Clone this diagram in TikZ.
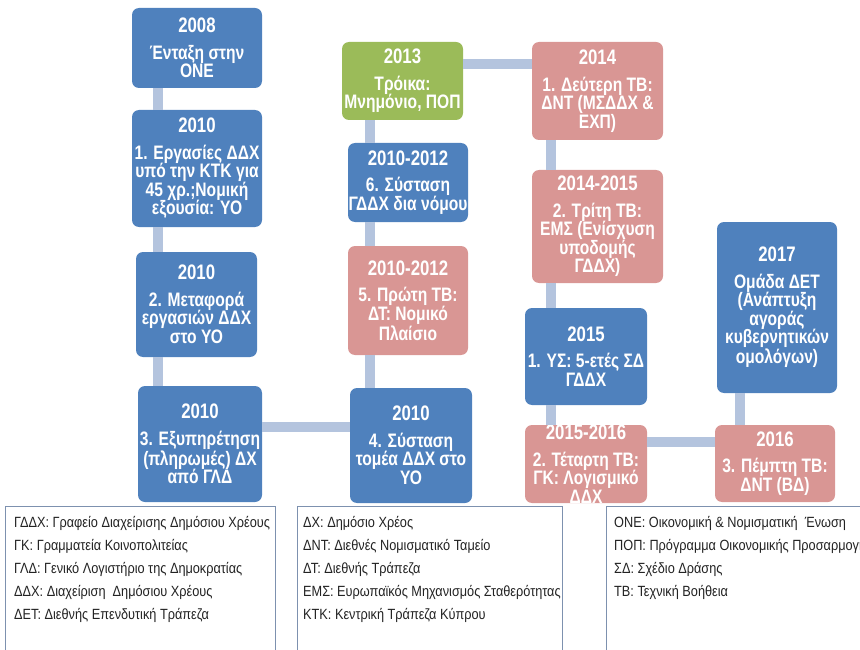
\documentclass[tikz,border=0pt]{standalone}
\usepackage{fontspec}
\setmainfont[FakeStretch=0.8]{Liberation Sans}
\newfontfamily\legfont[FakeStretch=0.86]{Liberation Sans}
\usetikzlibrary{positioning}
\definecolor{stBlue}{RGB}{79,129,189}
\definecolor{stRose}{RGB}{217,150,148}
\definecolor{stGreen}{RGB}{155,187,89}
\definecolor{link}{RGB}{180,196,222}
\definecolor{frame}{RGB}{125,145,175}
\definecolor{ink}{RGB}{35,35,35}
\tikzset{
  stage/.style={rectangle,rounded corners=7pt,inner sep=0pt,text=white,align=center,
    font=\bfseries\fontsize{19.5}{18.5}\selectfont},
  stagetxt/.style={inner sep=0pt,text=white,align=center,font=\bfseries\fontsize{19.5}{18.5}\selectfont},
  blu/.style={stage,fill=stBlue},
  rose/.style={stage,fill=stRose},
  grn/.style={stage,fill=stGreen},
  lnk/.style={draw=link,line width=10pt},
  legbox/.style={draw=frame,fill=white,line width=0.8pt},
  legtxt/.style={anchor=north west,align=left,text=ink,inner sep=0pt,
    font=\legfont\fontsize{14.8}{23}\selectfont},
}
\newcommand\stageyr[1]{{\fontsize{21}{18.5}\selectfont #1}}

\begin{document}
\begin{tikzpicture}[x=1pt,y=-1pt]
% public debt management in Cyprus, 2008-2017
\clip (0,0) rectangle (860,650);
\coordinate (c1) at (157.5,0);
\coordinate (c2) at (370,0);
\coordinate (c3) at (551,0);
\coordinate (c4) at (740,0);
\coordinate (h1) at (0,427);
\coordinate (h2) at (0,64);
\coordinate (h3) at (0,442);

\node[blu,minimum width=130pt,minimum height=80pt] (b08) at (197,48)
  {\stageyr{2008}\\[8pt]Ένταξη στην\\ONE};
\node[blu,minimum width=130pt,minimum height=117pt] (b10a) at (197,168.5)
  {\stageyr{2010}\\[8pt]1. Εργασίες ΔΔΧ\\υπό την ΚΤΚ για\\45 χρ.;Νομική\\εξουσία: ΥΟ};
\node[blu,minimum width=121pt,minimum height=105pt] (b10b) at (196.5,304.5)
  {\stageyr{2010}\\[8pt]2. Μεταφορά\\εργασιών ΔΔΧ\\στο ΥΟ};
\node[blu,minimum width=124pt,minimum height=116pt] (b10c) at (200,444)
  {\stageyr{2010}\\[8pt]3. Εξυπηρέτηση\\(πληρωμές) ΔΧ\\από ΓΛΔ};

\node[grn,minimum width=121pt,minimum height=78pt] (b13) at (402.5,81)
  {\stageyr{2013}\\[8pt]Τρόικα:\\Μνημόνιο, ΠΟΠ};
\node[blu,minimum width=120pt,minimum height=79pt] (b12b) at (408,182.5)
  {\stageyr{2010-2012}\\[8pt]6. Σύσταση\\ΓΔΔΧ δια νόμου};
\node[rose,minimum width=120pt,minimum height=109pt] (b12a) at (408,300.5)
  {\stageyr{2010-2012}\\[8pt]5. Πρώτη ΤΒ:\\ΔΤ: Νομικό\\Πλαίσιο};
\node[blu,minimum width=122pt,minimum height=115pt] (b10d) at (411,445.5)
  {\stageyr{2010}\\[8pt]4. Σύσταση\\τομέα ΔΔΧ στο\\ΥΟ};

\node[rose,minimum width=131pt,minimum height=98pt] (b14) at (597.5,91)
  {\stageyr{2014}\\[8pt]1. Δεύτερη ΤΒ:\\ΔΝΤ (ΜΣΔΔΧ \&\\ΕΧΠ)};
\node[rose,minimum width=131pt,minimum height=113pt] (b1415) at (597.5,226.5)
  {\stageyr{2014-2015}\\[8pt]2. Τρίτη ΤΒ:\\ΕΜΣ (Ενίσχυση\\υποδομής\\ΓΔΔΧ)};
\node[blu,minimum width=122pt,minimum height=97pt] (b15) at (586,356.5)
  {\stageyr{2015}\\[8pt]1. ΥΣ: 5-ετές ΣΔ\\ΓΔΔΧ};
\node[rose,minimum width=122pt,minimum height=78pt,
  label={[stagetxt]center:{\stageyr{2015-2016}\\[8pt]2. Τέταρτη ΤΒ:\\ΓΚ: Λογισμικό\\ΔΔΧ}}]
  (b1516) at (586,464) {};

\node[rose,minimum width=120pt,minimum height=77pt] (b16) at (775,463.5)
  {\stageyr{2016}\\[8pt]3. Πέμπτη ΤΒ:\\ΔΝΤ (ΒΔ)};
\node[blu,minimum width=120pt,minimum height=171pt] (b17) at (777,307.5)
  {\stageyr{2017}\\[8pt]Ομάδα ΔΕΤ\\(Ανάπτυξη\\αγοράς\\κυβερνητικών\\ομολόγων)};

\draw[lnk] (b08.south -| c1) -- (b10a.north -| c1);
\draw[lnk] (b10a.south -| c1) -- (b10b.north -| c1);
\draw[lnk] (b10b.south -| c1) -- (b10c.north -| c1);
\draw[lnk] (b10c.east |- h1) -- (b10d.west |- h1);
\draw[lnk] (b10d.north -| c2) -- (b12a.south -| c2);
\draw[lnk] (b12a.north -| c2) -- (b12b.south -| c2);
\draw[lnk] (b12b.north -| c2) -- (b13.south -| c2);
\draw[lnk] (b13.east |- h2) -- (b14.west |- h2);
\draw[lnk] (b14.south -| c3) -- (b1415.north -| c3);
\draw[lnk] (b1415.south -| c3) -- (b15.north -| c3);
\draw[lnk] (b15.south -| c3) -- (b1516.north -| c3);
\draw[lnk] (b1516.east |- h3) -- (b16.west |- h3);
\draw[lnk] (b16.north -| c4) -- (b17.south -| c4);

% legend strip
\fill[white] (0,506) rectangle (860,650);
\draw[legbox] (5,506) rectangle (275,660);
\draw[legbox] (297,506) rectangle (562,660);
\draw[legbox] (606,506) rectangle (870,660);
\node[legtxt] (lg1) at (14,516)
  {ΓΔΔΧ: Γραφείο Διαχείρισης Δημόσιου Χρέους\\
   ΓΚ: Γραμματεία Κοινοπολιτείας\\
   ΓΛΔ: Γενικό Λογιστήριο της Δημοκρατίας\\
   ΔΔΧ: Διαχείριση~ Δημόσιου Χρέους\\
   ΔΕΤ: Διεθνής Επενδυτική Τράπεζα};
\node[legtxt] (lg2) at (303,516)
  {ΔΧ: Δημόσιο Χρέος\\
   ΔΝΤ: Διεθνές Νομισματικό Ταμείο\\
   ΔΤ: Διεθνής Τράπεζα\\
   ΕΜΣ: Ευρωπαϊκός Μηχανισμός Σταθερότητας\\
   ΚΤΚ: Κεντρική Τράπεζα Κύπρου};
\node[legtxt] (lg3) at (614,516)
  {ΟΝΕ: Οικονομική \& Νομισματική~ Ένωση\\
   ΠΟΠ: Πρόγραμμα Οικονομικής Προσαρμογής\\
   ΣΔ: Σχέδιο Δράσης\\
   ΤΒ: Τεχνική Βοήθεια};
\end{tikzpicture}
\end{document}
